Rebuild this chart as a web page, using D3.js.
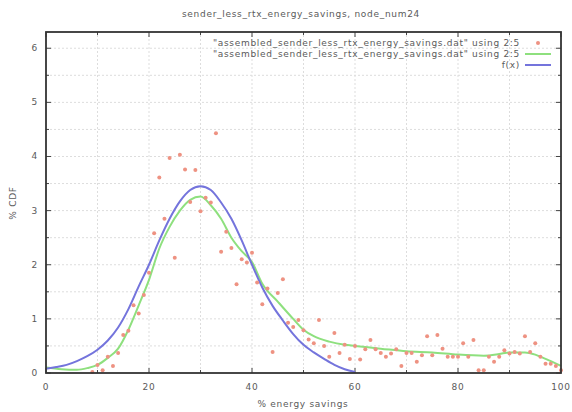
<!DOCTYPE html>
<html>
<head>
<meta charset="utf-8">
<script src="https://cdn.jsdelivr.net/npm/d3@7"></script>
<style>
  body { margin: 0; background: #fff; }
  text { font-family: "DejaVu Sans", sans-serif; fill: #5a5a5a; letter-spacing: 0.7px; }
</style>
</head>
<body>
<svg width="572" height="412"></svg>
<script>
// raw points, column 2:5
var dataX = [9,10,11,12,13,14,15,16,17,18,19,20,21,22,23,24,25,26,27,28,29,30,31,32,33,34,35,36,37,38,39,40,
    41,42,43,44,45,46,47,48,49,50,51,52,53,54,55,56,57,58,59,60,61,62,63,64,65,66,67,68,69,70,
    71,72,73,74,75,76,77,78,79,80,81,82,83,84,85,86,87,88,89,90,91,92,93,94,95,96,97,98,99,100];
var dataY = [0.02,0.15,0.05,0.30,0.13,0.37,0.70,0.78,1.25,1.10,1.44,1.85,2.58,3.61,2.85,3.97,2.13,4.03,3.76,3.16,3.75,2.99,3.24,3.15,4.43,2.24,2.61,2.31,1.64,2.10,2.04,2.22,
    1.67,1.27,1.56,0.39,1.48,1.73,0.93,0.85,0.98,0.79,0.62,0.55,0.98,0.50,0.30,0.74,0.37,0.52,0.26,0.50,0.25,0.44,0.61,0.44,0.37,0.30,0.36,0.44,0.13,0.37,
    0.37,0.21,0.33,0.68,0.33,0.70,0.45,0.30,0.30,0.30,0.55,0.30,0.61,0.05,0.05,0.30,0.21,0.30,0.42,0.36,0.39,0.36,0.68,0.39,0.55,0.30,0.17,0.17,0.13,0.05];

// smoothed curve of the same file
var smoothX = [0,3,6,8,10,12,14,16,18,20,22,24,26,28,30,32,34,36,38,40,42,45,48,50,52,55,58,60,65,70,75,80,85,88,90,93,95,97,100];
var smoothY = [0.10,0.07,0.06,0.09,0.15,0.28,0.45,0.80,1.25,1.72,2.30,2.70,3.00,3.20,3.26,3.10,2.85,2.50,2.25,2.05,1.65,1.32,1.00,0.80,0.68,0.58,0.52,0.50,0.45,0.40,0.38,0.34,0.32,0.35,0.38,0.38,0.34,0.26,0.13];

// fitted f(x)
var fitX = [0,2,4,6,8,10,12,14,16,18,20,22,24,26,28,30,32,34,36,38,40,42,44,46,48,50,52,54,56,58,60];
var fitY = [0.08,0.11,0.15,0.22,0.31,0.43,0.60,0.84,1.18,1.60,2.00,2.45,2.85,3.17,3.38,3.45,3.38,3.15,2.85,2.45,2.00,1.58,1.24,0.97,0.72,0.52,0.38,0.26,0.15,0.07,0.02];

var xMajor = [0,20,40,60,80,100];
var yMajor = [0,1,2,3,4,5,6];

var titleText = "sender_less_rtx_energy_savings, node_num24";
var legendLabels = ['"assembled_sender_less_rtx_energy_savings.dat" using 2:5',
                    '"assembled_sender_less_rtx_energy_savings.dat" using 2:5',
                    'f(x)'];

var svg = d3.select("svg");
var x = d3.scaleLinear().domain([0, 100]).range([46, 561]);
var y = d3.scaleLinear().domain([0, 6.3]).range([373, 32]);

// grid
var gridX = d3.range(10, 100, 10);
var gridY = d3.range(0.5, 6.3, 0.5);
svg.append("g").selectAll("line").data(gridX).enter().append("line")
    .attr("x1", d => x(d)).attr("x2", d => x(d))
    .attr("y1", y.range()[0]).attr("y2", y.range()[1])
    .attr("stroke", "#ddd").attr("stroke-dasharray", "2,2");
svg.append("g").selectAll("line").data(gridY).enter().append("line")
    .attr("y1", d => y(d)).attr("y2", d => y(d))
    .attr("x1", x.range()[0]).attr("x2", x.range()[1])
    .attr("stroke", "#ddd").attr("stroke-dasharray", "2,2");

// ticks, inward
var tickG = svg.append("g").attr("stroke", "#444");
d3.range(0, 101, 10).forEach(function (d) {
    var len = d % 20 === 0 ? 5 : 3;
    tickG.append("line").attr("x1", x(d)).attr("x2", x(d)).attr("y1", y(0)).attr("y2", y(0) - len);
    tickG.append("line").attr("x1", x(d)).attr("x2", x(d)).attr("y1", y.range()[1]).attr("y2", y.range()[1] + len);
});
d3.range(0, 6.01, 0.5).forEach(function (d) {
    var len = d % 1 === 0 ? 5 : 3;
    tickG.append("line").attr("y1", y(d)).attr("y2", y(d)).attr("x1", x(0)).attr("x2", x(0) + len);
    tickG.append("line").attr("y1", y(d)).attr("y2", y(d)).attr("x1", x(100)).attr("x2", x(100) - len);
});

// tick labels
svg.append("g").selectAll("text").data(xMajor).enter().append("text")
    .attr("x", d => x(d)).attr("y", 390)
    .attr("text-anchor", "middle").attr("font-size", 9)
    .text(d => d);
svg.append("g").selectAll("text").data(yMajor).enter().append("text")
    .attr("x", 38).attr("y", d => y(d) + 3)
    .attr("text-anchor", "end").attr("font-size", 9)
    .text(d => d);

// curves
var line = d3.line().curve(d3.curveMonotoneX);
svg.append("path")
    .attr("d", line(smoothX.map((d, i) => [x(d), y(smoothY[i])])))
    .attr("fill", "none").attr("stroke", "#8ee07e").attr("stroke-width", 2);
svg.append("path")
    .attr("d", line(fitX.map((d, i) => [x(d), y(fitY[i])])))
    .attr("fill", "none").attr("stroke", "#7474dc").attr("stroke-width", 2);

// points
svg.append("g").selectAll("circle").data(dataX).enter().append("circle")
    .attr("cx", d => x(d)).attr("cy", (d, i) => y(dataY[i]))
    .attr("r", 2).attr("fill", "#ee9282");

// border
svg.append("rect")
    .attr("x", x(0)).attr("y", y.range()[1])
    .attr("width", x(100) - x(0)).attr("height", y(0) - y.range()[1])
    .attr("fill", "none").attr("stroke", "#333").attr("stroke-width", 1.8);

// legend
var leg = svg.append("g");
var legY = [43, 54, 65];
leg.selectAll("text").data(legendLabels).enter().append("text")
    .attr("x", 520).attr("y", (d, i) => legY[i] + 3)
    .attr("text-anchor", "end").attr("font-size", 9)
    .text(d => d);
leg.append("circle").attr("cx", 538).attr("cy", legY[0]).attr("r", 2).attr("fill", "#ee9282");
leg.append("line").attr("x1", 525).attr("x2", 551).attr("y1", legY[1]).attr("y2", legY[1])
    .attr("stroke", "#8ee07e").attr("stroke-width", 2);
leg.append("line").attr("x1", 525).attr("x2", 551).attr("y1", legY[2]).attr("y2", legY[2])
    .attr("stroke", "#7474dc").attr("stroke-width", 2);

// title and axis labels
svg.append("text").attr("x", 301).attr("y", 17).attr("text-anchor", "middle")
    .attr("font-size", 9).text(titleText);
svg.append("text").attr("x", 303).attr("y", 407).attr("text-anchor", "middle")
    .attr("font-size", 9).text("% energy savings");
svg.append("text").attr("transform", "translate(16," + 203 + ") rotate(-90)")
    .attr("text-anchor", "middle").attr("font-size", 9).text("% CDF");
</script>
</body>
</html>
